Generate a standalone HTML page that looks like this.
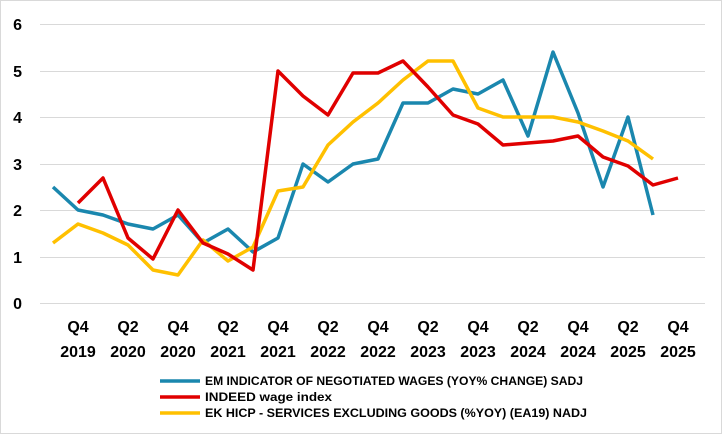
<!DOCTYPE html>
<html><head><meta charset="utf-8"><style>
html,body{margin:0;padding:0;background:#fff;}
svg{display:block;font-family:"Liberation Sans",Arial,sans-serif;}
</style></head><body>
<svg width="722" height="434" viewBox="0 0 722 434">
<rect x="0.5" y="0.5" width="721" height="433" fill="#fff" stroke="#d9d9d9"/>
<g stroke="#d9d9d9" stroke-width="1">
<line x1="40" x2="705" y1="24.5" y2="24.5"/>
<line x1="40" x2="705" y1="71.5" y2="71.5"/>
<line x1="40" x2="705" y1="117.5" y2="117.5"/>
<line x1="40" x2="705" y1="164.5" y2="164.5"/>
<line x1="40" x2="705" y1="210.5" y2="210.5"/>
<line x1="40" x2="705" y1="257.5" y2="257.5"/>
<line x1="40" x2="705" y1="303.5" y2="303.5"/>
</g>
<g font-size="16" font-weight="bold" fill="#000" text-anchor="end">
<text x="22" y="30">6</text><text x="22" y="77">5</text><text x="22" y="123">4</text>
<text x="22" y="170">3</text><text x="22" y="216">2</text><text x="22" y="263">1</text>
<text x="22" y="309">0</text>
</g>
<g font-size="16" font-weight="bold" fill="#000" text-anchor="middle">
<text x="78" y="332">Q4</text><text x="78" y="357">2019</text>
<text x="128" y="332">Q2</text><text x="128" y="357">2020</text>
<text x="178" y="332">Q4</text><text x="178" y="357">2020</text>
<text x="228" y="332">Q2</text><text x="228" y="357">2021</text>
<text x="278" y="332">Q4</text><text x="278" y="357">2021</text>
<text x="328" y="332">Q2</text><text x="328" y="357">2022</text>
<text x="378" y="332">Q4</text><text x="378" y="357">2022</text>
<text x="428" y="332">Q2</text><text x="428" y="357">2023</text>
<text x="478" y="332">Q4</text><text x="478" y="357">2023</text>
<text x="528" y="332">Q2</text><text x="528" y="357">2024</text>
<text x="578" y="332">Q4</text><text x="578" y="357">2024</text>
<text x="628" y="332">Q2</text><text x="628" y="357">2025</text>
<text x="678" y="332">Q4</text><text x="678" y="357">2025</text>
</g>
<g fill="none" stroke-width="3.5" stroke-linejoin="round">
<polyline stroke="#1A87AE" points="53,187 78,210 103,215 128,224 153,229 178,215 203,243 228,229 253,252 278,238 303,164 328,182 353,164 378,159 403,103 428,103 453,89 478,94 503,80 528,136 553,52 578,113 603,187 628,117 653,215"/>
<polyline stroke="#FFC000" points="53,243 78,224 103,233 128,245 153,270 178,275 203,240 228,261 253,247 278,191 303,187 328,145 353,122 378,103 403,80 428,61 453,61 478,108 503,117 528,117 553,117 578,122 603,131 628,141 653,159"/>
<polyline stroke="#E00000" points="78,203 103,178 128,238 153,259 178,210 203,243 228,254 253,270 278,71 303,96 328,115 353,73 378,73 403,61 428,87 453,115 478,124 503,145 528,143 553,141 578,136 603,157 628,166 653,185 678,178"/>
</g>
<g stroke-width="3.5">
<line x1="160" x2="200" y1="381" y2="381" stroke="#1A87AE"/>
<line x1="160" x2="200" y1="397" y2="397" stroke="#E00000"/>
<line x1="160" x2="200" y1="413" y2="413" stroke="#FFC000"/>
</g>
<g font-size="12" font-weight="bold" fill="#000">
<text x="205" y="385" textLength="378" lengthAdjust="spacingAndGlyphs">EM INDICATOR OF NEGOTIATED WAGES (YOY% CHANGE) SADJ</text>
<text x="205" y="401" textLength="127" lengthAdjust="spacingAndGlyphs">INDEED wage index</text>
<text x="205" y="417" textLength="382" lengthAdjust="spacingAndGlyphs">EK HICP - SERVICES EXCLUDING GOODS (%YOY) (EA19) NADJ</text>
</g>
</svg>
</body></html>
